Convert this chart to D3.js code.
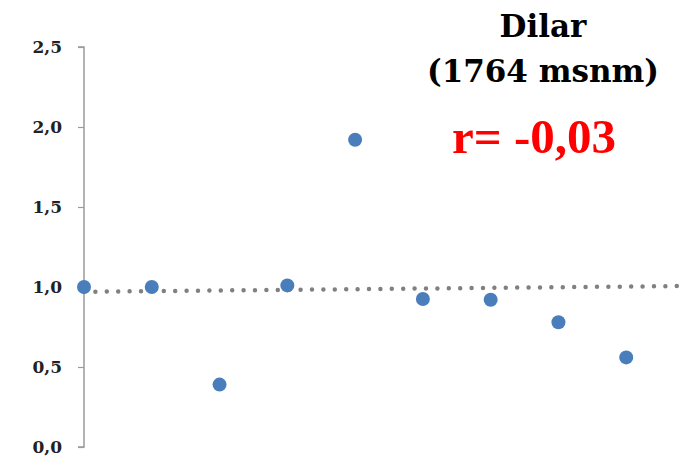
<!DOCTYPE html>
<html>
<head>
<meta charset="utf-8">
<script src="https://cdn.jsdelivr.net/npm/d3@7"></script>
<style>
  html, body { margin: 0; padding: 0; background: #fff; }
  svg { display: block; }
</style>
</head>
<body>
<svg id="chart" width="680" height="460"></svg>
<script>
// Observations (ordinal position and value)
const positions = [0, 1, 2, 3, 4, 5, 6, 7, 8];
const values = [1.00, 1.00, 0.39, 1.01, 1.92, 0.925, 0.92, 0.78, 0.56];

// Linear trend endpoints (position -> value)
const trendX = [0, 8.8];
const trendY = [0.97, 1.006];

// Y axis ticks
const yTicks = [0, 0.5, 1.0, 1.5, 2.0, 2.5];

const titleLines = ["Dilar", "(1764 msnm)"];
const corrLabel = "r= -0,03";

const svg = d3.select("#chart");

const x = d3.scaleLinear().domain([0, 9]).range([84, 694]);
const y = d3.scaleLinear().domain([0, 2.5]).range([447, 47]);

const fmt = d => d3.format(".1f")(d).replace(".", ",");

// Y axis
const yAxis = d3.axisLeft(y)
  .tickValues(yTicks)
  .tickSize(6)
  .tickPadding(16)
  .tickFormat(fmt);

const gy = svg.append("g")
  .attr("transform", `translate(${x(0)},0)`)
  .call(yAxis);
gy.select(".domain").attr("stroke", "#9a9a9a").attr("stroke-width", 1.5)
  .attr("d", `M-6,${y(2.5)}H0V${y(0)}H-6`);
gy.selectAll(".tick line").attr("stroke", "#9a9a9a").attr("stroke-width", 1.2);
gy.selectAll(".tick text")
  .attr("font-family", "'DejaVu Serif', serif")
  .attr("font-weight", "bold")
  .attr("font-size", 17)
  .attr("fill", "#222");

// Trend line (dotted)
const line = d3.line().x(d => x(d[0])).y(d => y(d[1]));
svg.append("path")
  .datum(d3.zip(trendX, trendY))
  .attr("d", line)
  .attr("fill", "none")
  .attr("stroke", "#808080")
  .attr("stroke-width", 4.5)
  .attr("stroke-linecap", "round")
  .attr("stroke-dasharray", "0 11.4");

// Points
svg.append("g").selectAll("circle")
  .data(d3.zip(positions, values))
  .join("circle")
  .attr("cx", d => x(d[0]))
  .attr("cy", d => y(d[1]))
  .attr("r", 7)
  .attr("fill", "#4a7ebb");

// Title and correlation label
const title = svg.append("text")
  .attr("text-anchor", "middle")
  .attr("font-family", "'DejaVu Serif', serif")
  .attr("font-weight", "bold")
  .attr("font-size", 31)
  .attr("fill", "#000");
title.selectAll("tspan")
  .data(titleLines)
  .join("tspan")
  .attr("x", 543)
  .attr("y", (d, i) => 37 + i * 45)
  .text(d => d);

svg.append("text")
  .attr("x", 534)
  .attr("y", 153)
  .attr("text-anchor", "middle")
  .attr("font-family", "'Liberation Serif', serif")
  .attr("font-weight", "bold")
  .attr("font-size", 49)
  .attr("fill", "#ff0000")
  .text(corrLabel);
</script>
</body>
</html>
